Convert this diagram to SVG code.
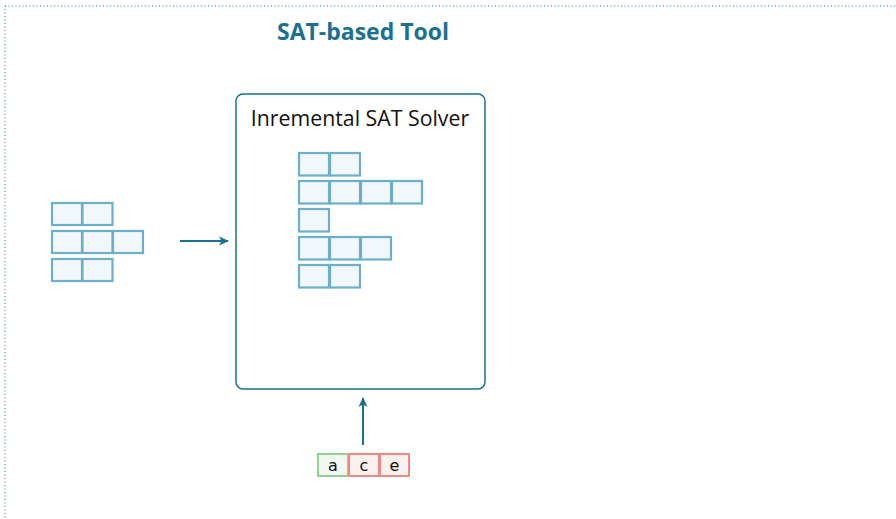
<svg xmlns="http://www.w3.org/2000/svg" width="896" height="519" viewBox="0 0 896 519">
<style>
.cell{fill:#f2f7fc;stroke:#6aafcb;stroke-width:2.2}
.lit-g{fill:#f2f8f1;stroke:#92cf92;stroke-width:2}
.lit-r{fill:#fdf1ef;stroke:#ef8a82;stroke-width:2}
.lt{font-family:"DejaVu Sans","Liberation Sans",sans-serif;font-size:16px;fill:#111;text-anchor:middle}
.conn{stroke:#1a6f93;stroke-width:2;fill:none}
</style>
<defs>
<marker id="ah" markerWidth="12" markerHeight="12" refX="9" refY="6" orient="auto" markerUnits="userSpaceOnUse">
<path d="M0,1.5 L10,6 L0,10.5 L2.5,6 Z" fill="#1a6f93"/>
</marker>
</defs>
<rect x="5" y="6" width="900" height="530" fill="none" stroke="#1a7a9e" stroke-width="1" stroke-dasharray="1,2.5"/>
<text x="363" y="40" font-family="'Open Sans','DejaVu Sans',sans-serif" font-weight="bold" font-size="23" fill="#1a6f93" text-anchor="middle" textLength="172" lengthAdjust="spacingAndGlyphs">SAT-based Tool</text>
<g id="input-clauses">
<rect class="cell" x="52" y="203" width="30" height="22"/>
<rect class="cell" x="82.5" y="203" width="30" height="22"/>
<rect class="cell" x="52" y="231" width="30" height="22"/>
<rect class="cell" x="82.5" y="231" width="30" height="22"/>
<rect class="cell" x="113" y="231" width="30" height="22"/>
<rect class="cell" x="52" y="259" width="30" height="22"/>
<rect class="cell" x="82.5" y="259" width="30" height="22"/>
</g>
<g id="solver">
<rect x="236" y="94" width="249" height="295" rx="7" fill="#ffffff" stroke="#1a6f93" stroke-width="1.5"/>
<text x="360" y="126" font-family="'Open Sans','DejaVu Sans',sans-serif" font-size="21.3" fill="#111" text-anchor="middle">Inremental SAT Solver</text>
<rect class="cell" x="299" y="153" width="30" height="22.5"/>
<rect class="cell" x="330" y="153" width="30" height="22.5"/>
<rect class="cell" x="299" y="181" width="30" height="22.5"/>
<rect class="cell" x="330" y="181" width="30" height="22.5"/>
<rect class="cell" x="361" y="181" width="30" height="22.5"/>
<rect class="cell" x="392" y="181" width="30" height="22.5"/>
<rect class="cell" x="299" y="209" width="30" height="22.5"/>
<rect class="cell" x="299" y="237" width="30" height="22.5"/>
<rect class="cell" x="330" y="237" width="30" height="22.5"/>
<rect class="cell" x="361" y="237" width="30" height="22.5"/>
<rect class="cell" x="299" y="265" width="30" height="22.5"/>
<rect class="cell" x="330" y="265" width="30" height="22.5"/>
</g>
<g id="assumptions">
<rect class="lit-g" x="318" y="454" width="30" height="22"/>
<rect class="lit-r" x="349" y="454" width="30" height="22"/>
<rect class="lit-r" x="380" y="454" width="29" height="22"/>
<text class="lt" x="333" y="470.5">a</text>
<text class="lt" x="364" y="470.5">c</text>
<text class="lt" x="394.5" y="470.5">e</text>
</g>
<g id="connectors">
<line class="conn" x1="180" y1="241" x2="228" y2="241" marker-end="url(#ah)"/>
<line class="conn" x1="363" y1="445" x2="363" y2="398" marker-end="url(#ah)"/>
</g>
</svg>
